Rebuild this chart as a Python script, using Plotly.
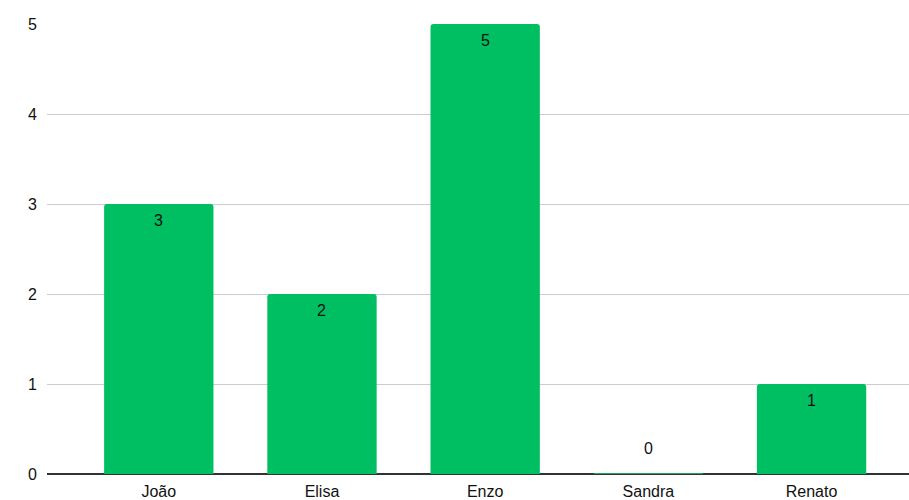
import plotly.graph_objects as go

names = ["João", "Elisa", "Enzo", "Sandra", "Renato"]
counts = [3, 2, 5, 0, 1]
y_ticks = [0, 1, 2, 3, 4, 5]

bar_green = "#00BF63"
font_family = "Liberation Sans, Arial, sans-serif"
label_font = dict(family=font_family, size=16, color="#111111")
bar_width = 0.67

fig = go.Figure()
fig.add_trace(go.Bar(
    x=list(range(len(names))),
    y=counts,
    width=bar_width,
    marker=dict(color=bar_green, line=dict(width=0), cornerradius=3),
    hoverinfo="skip",
))

# zero-height bars: thin baseline stroke in place of the bar
for i, v in enumerate(counts):
    if v != 0:
        continue
    fig.add_trace(go.Scatter(
        x=[i - bar_width / 2, i + bar_width / 2], y=[v, v],
        mode="lines", line=dict(color="#1fa855", width=2),
        cliponaxis=False, hoverinfo="skip", showlegend=False,
    ))

# value labels: just inside the top of each bar, above the baseline for zeros
for i, v in enumerate(counts):
    fig.add_annotation(
        x=i, y=v, text=str(v), showarrow=False,
        yshift=-16 if v > 0 else 26, font=label_font,
    )

fig.update_layout(
    width=909, height=500,
    margin=dict(l=47, r=0, t=24, b=26),
    paper_bgcolor="white", plot_bgcolor="white",
    showlegend=False,
    font=dict(family=font_family, size=16, color="#111111"),
    xaxis=dict(
        tickmode="array", tickvals=list(range(len(names))), ticktext=names,
        range=[-0.685, 4.597], showgrid=False, zeroline=False,
        showline=False, ticks="", ticklabelstandoff=6,
        tickfont=dict(size=16, color="#111111"),
    ),
    yaxis=dict(
        range=[0, 5], tickvals=y_ticks, showgrid=True, gridcolor="#cccccc",
        gridwidth=1, zeroline=True, zerolinecolor="#333333", zerolinewidth=1.5,
        showline=False, ticks="", ticklabelstandoff=9,
        tickfont=dict(size=16, color="#111111"),
    ),
)

fig.write_html("out.html")
